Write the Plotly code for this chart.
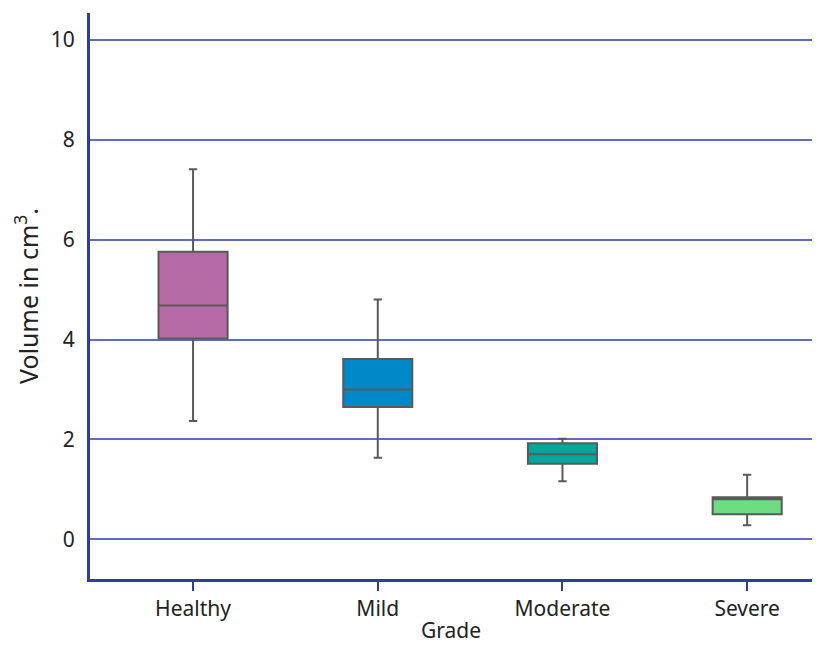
import plotly.graph_objects as go

grades = ["Healthy", "Mild", "Moderate", "Severe"]
q1 = [4.02, 2.65, 1.51, 0.50]
median = [4.68, 3.00, 1.70, 0.80]
q3 = [5.76, 3.61, 1.92, 0.84]
lower = [2.37, 1.63, 1.16, 0.28]
upper = [7.41, 4.80, 2.01, 1.29]
colors = ["#b56aa5", "#0088c8", "#00a79d", "#6fdc84"]

fig = go.Figure()
for i, g in enumerate(grades):
    fig.add_trace(go.Box(
        x=[g], q1=[q1[i]], median=[median[i]], q3=[q3[i]],
        lowerfence=[lower[i]], upperfence=[upper[i]],
        fillcolor=colors[i], line=dict(color="#5a5a5a", width=2),
        width=0.374, whiskerwidth=0.12, showlegend=False, hoverinfo="y",
    ))

font = "Noto Sans"
fig.update_layout(
    width=804, height=636,
    margin=dict(l=82, r=0, t=5, b=62),
    paper_bgcolor="white", plot_bgcolor="white",
    font=dict(family=font, size=21, color="#222"),
    xaxis=dict(
        type="category", categoryorder="array", categoryarray=grades,
        range=[-0.558, 3.351],
        showline=True, linecolor="#2e3d9c", linewidth=3,
        ticks="outside", ticklen=9, tickwidth=2, tickcolor="#2e3d9c",
        showgrid=False, zeroline=False,
        title=dict(text="Grade", font=dict(size=21), standoff=7),
    ),
    yaxis=dict(
        range=[-0.797, 10.54],
        tickvals=[0, 2, 4, 6, 8, 10],
        showline=True, linecolor="#2e3d9c", linewidth=3,
        showgrid=True, gridcolor="#5f6cc0", gridwidth=1.5,
        zeroline=False, ticks="", ticklabelstandoff=8,
        title=dict(text="Volume in cm<sup>3</sup>.", font=dict(size=25), standoff=13),
    ),
)
fig.write_html("out.html")
